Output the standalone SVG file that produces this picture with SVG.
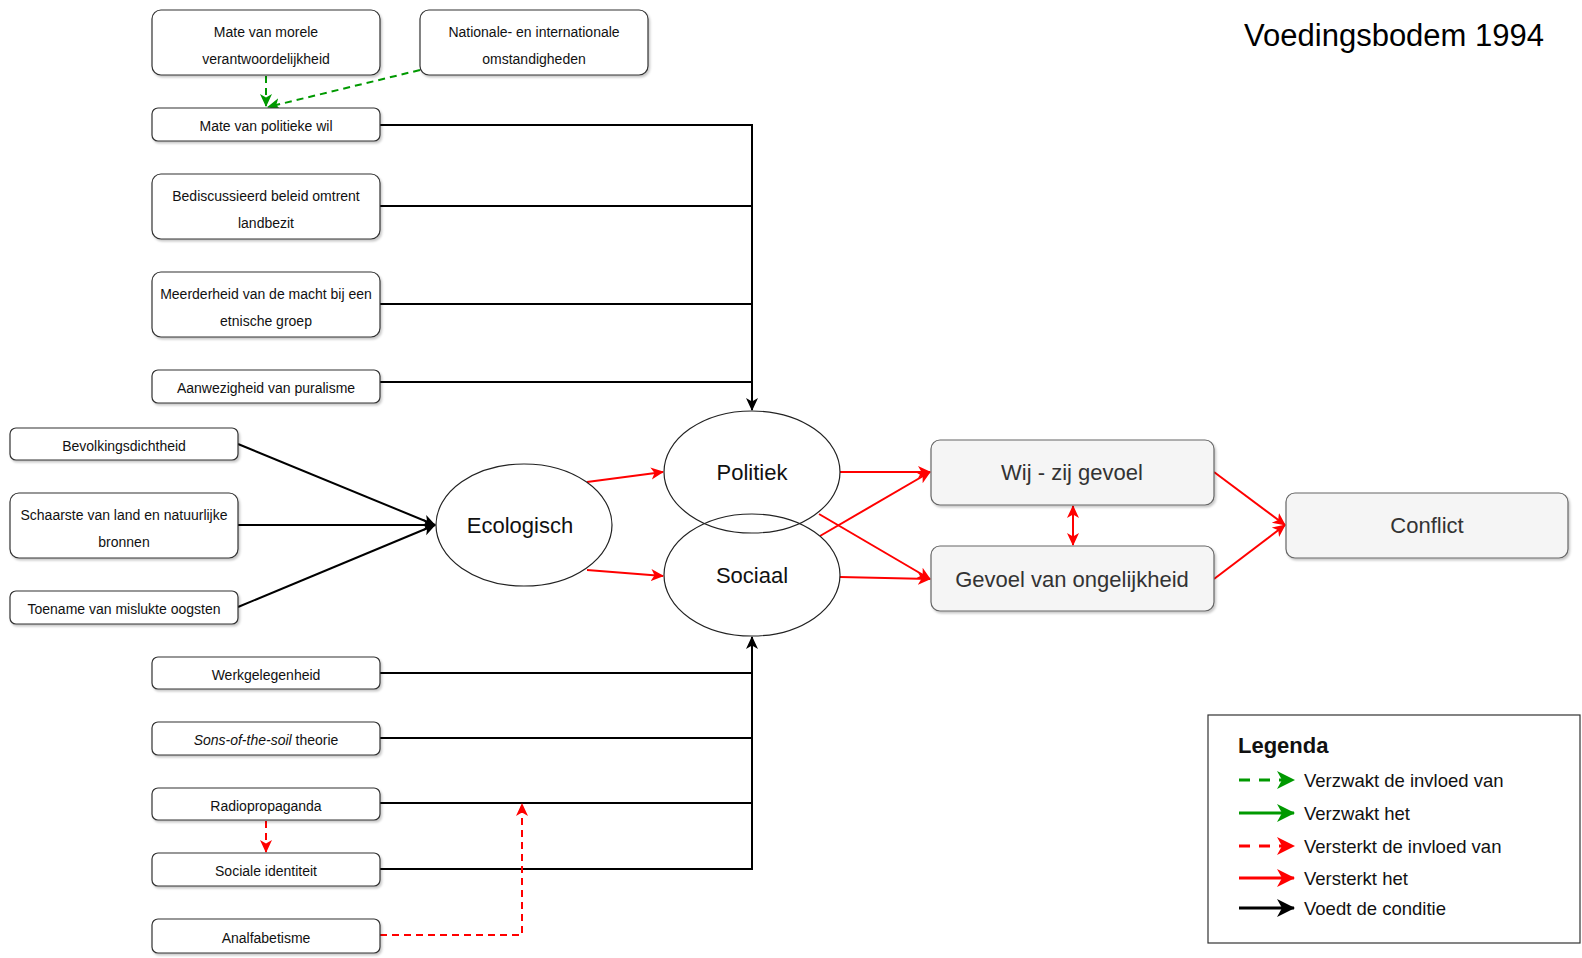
<svg xmlns="http://www.w3.org/2000/svg" width="1582" height="958" viewBox="0 0 1582 958">
<defs>
<filter id="sh" x="-5%" y="-20%" width="110%" height="150%"><feDropShadow dx="1.5" dy="2" stdDeviation="1" flood-color="#000" flood-opacity="0.22"/></filter>
<marker id="ak" markerUnits="userSpaceOnUse" markerWidth="14" markerHeight="14" refX="12" refY="6" orient="auto-start-reverse" viewBox="0 0 14 12"><path d="M0,0 L13,6 L0,12 L3.5,6 Z" fill="#000"/></marker>
<marker id="ar" markerUnits="userSpaceOnUse" markerWidth="14" markerHeight="14" refX="12" refY="6" orient="auto-start-reverse" viewBox="0 0 14 12"><path d="M0,0 L13,6 L0,12 L3.5,6 Z" fill="#ff0000"/></marker>
<marker id="ag" markerUnits="userSpaceOnUse" markerWidth="14" markerHeight="14" refX="12" refY="6" orient="auto-start-reverse" viewBox="0 0 14 12"><path d="M0,0 L13,6 L0,12 L3.5,6 Z" fill="#009900"/></marker>
<marker id="Lk" markerUnits="userSpaceOnUse" markerWidth="20" markerHeight="18" refX="17" refY="9" orient="auto" viewBox="0 0 20 18"><path d="M0,0 L18,9 L0,18 L5,9 Z" fill="#000"/></marker>
<marker id="Lr" markerUnits="userSpaceOnUse" markerWidth="20" markerHeight="18" refX="17" refY="9" orient="auto" viewBox="0 0 20 18"><path d="M0,0 L18,9 L0,18 L5,9 Z" fill="#ff0000"/></marker>
<marker id="Lg" markerUnits="userSpaceOnUse" markerWidth="20" markerHeight="18" refX="17" refY="9" orient="auto" viewBox="0 0 20 18"><path d="M0,0 L18,9 L0,18 L5,9 Z" fill="#009900"/></marker>
</defs>
<style>
.box{fill:#fff;stroke:#333;stroke-width:1.2;filter:url(#sh)}
.gbox{fill:#f5f5f5;stroke:#666;stroke-width:1.2;filter:url(#sh)}
.ell{fill:none;stroke:#222;stroke-width:1.2}
.t{font-family:"Liberation Sans",Arial,sans-serif;font-size:14px;fill:#111;text-anchor:middle}
.tb{font-family:"Liberation Sans",Arial,sans-serif;font-size:22px;fill:#111;text-anchor:middle}
.tg{font-family:"Liberation Sans",Arial,sans-serif;font-size:22px;fill:#333;text-anchor:middle}
.lt{font-family:"Liberation Sans",Arial,sans-serif;font-size:18.5px;fill:#111}
.k{fill:none;stroke:#000;stroke-width:2}
.r{fill:none;stroke:#ff0000;stroke-width:2}
.rd{fill:none;stroke:#ff0000;stroke-width:2;stroke-dasharray:7 5}
.gd{fill:none;stroke:#009900;stroke-width:2;stroke-dasharray:7 5}
</style>
<rect width="1582" height="958" fill="#fff"/>
<text x="1544" y="46" font-family="Liberation Sans,Arial,sans-serif" font-size="31" text-anchor="end" fill="#000">Voedingsbodem 1994</text>

<g id="connectors">
<!-- green dashed -->
<path class="gd" d="M266,76 L266,106" marker-end="url(#ag)"/>
<path class="gd" d="M420,70 L268,107" marker-end="url(#ag)"/>
<!-- political feeders -->
<path class="k" d="M380,125 L752,125 L752,410" marker-end="url(#ak)"/>
<path class="k" d="M380,206 L752,206"/>
<path class="k" d="M380,304 L752,304"/>
<path class="k" d="M380,382 L752,382"/>
<!-- ecological feeders -->
<path class="k" d="M238,444 L435,525" marker-end="url(#ak)"/>
<path class="k" d="M238,525 L435,525" marker-end="url(#ak)"/>
<path class="k" d="M238,607 L435,525" marker-end="url(#ak)"/>
<!-- social feeders -->
<path class="k" d="M380,869 L752,869 L752,637" marker-end="url(#ak)"/>
<path class="k" d="M380,673 L752,673"/>
<path class="k" d="M380,738 L752,738"/>
<path class="k" d="M380,803 L752,803"/>
<!-- red dashed -->
<path class="rd" d="M266,821 L266,852" marker-end="url(#ar)"/>
<path class="rd" d="M380,935 L522,935 L522,804" marker-end="url(#ar)"/>
<!-- red -->
<path class="r" d="M587,482 L663,472" marker-end="url(#ar)"/>
<path class="r" d="M587,570 L663,576" marker-end="url(#ar)"/>
<path class="r" d="M840,472 L930,472" marker-end="url(#ar)"/>
<path class="r" d="M819,514 L930,579" marker-end="url(#ar)"/>
<path class="r" d="M820,536 L930,472" marker-end="url(#ar)"/>
<path class="r" d="M840,577 L930,579" marker-end="url(#ar)"/>
<path class="r" d="M1073,506 L1073,545" marker-start="url(#ar)" marker-end="url(#ar)"/>
<path class="r" d="M1214,472 L1285,525" marker-end="url(#ar)"/>
<path class="r" d="M1214,579 L1285,525" marker-end="url(#ar)"/>
</g>

<g id="n-morele"><rect class="box" x="152" y="10" width="228" height="65" rx="9"/><text class="t" x="266" y="37">Mate van morele</text><text class="t" x="266" y="64">verantwoordelijkheid</text></g>
<g id="n-nationale"><rect class="box" x="420" y="10" width="228" height="65" rx="9"/><text class="t" x="534" y="37">Nationale- en internationale</text><text class="t" x="534" y="64">omstandigheden</text></g>
<g id="n-wil"><rect class="box" x="152" y="108" width="228" height="33" rx="6"/><text class="t" x="266" y="131">Mate van politieke wil</text></g>
<g id="n-beleid"><rect class="box" x="152" y="174" width="228" height="65" rx="9"/><text class="t" x="266" y="201">Bediscussieerd beleid omtrent</text><text class="t" x="266" y="228">landbezit</text></g>
<g id="n-macht"><rect class="box" x="152" y="272" width="228" height="65" rx="9"/><text class="t" x="266" y="299">Meerderheid van de macht bij een</text><text class="t" x="266" y="326">etnische groep</text></g>
<g id="n-puralisme"><rect class="box" x="152" y="370" width="228" height="33" rx="6"/><text class="t" x="266" y="393">Aanwezigheid van puralisme</text></g>
<g id="n-bevolking"><rect class="box" x="10" y="428" width="228" height="32" rx="6"/><text class="t" x="124" y="451">Bevolkingsdichtheid</text></g>
<g id="n-schaarste"><rect class="box" x="10" y="493" width="228" height="65" rx="9"/><text class="t" x="124" y="520">Schaarste van land en natuurlijke</text><text class="t" x="124" y="547">bronnen</text></g>
<g id="n-oogsten"><rect class="box" x="10" y="591" width="228" height="33" rx="6"/><text class="t" x="124" y="614">Toename van mislukte oogsten</text></g>
<g id="n-werk"><rect class="box" x="152" y="657" width="228" height="32" rx="6"/><text class="t" x="266" y="680">Werkgelegenheid</text></g>
<g id="n-sons"><rect class="box" x="152" y="722" width="228" height="33" rx="6"/><text class="t" x="266" y="745"><tspan font-style="italic">Sons-of-the-soil</tspan> theorie</text></g>
<g id="n-radio"><rect class="box" x="152" y="788" width="228" height="32" rx="6"/><text class="t" x="266" y="811">Radiopropaganda</text></g>
<g id="n-identiteit"><rect class="box" x="152" y="853" width="228" height="33" rx="6"/><text class="t" x="266" y="876">Sociale identiteit</text></g>
<g id="n-analfabetisme"><rect class="box" x="152" y="919" width="228" height="34" rx="6"/><text class="t" x="266" y="943">Analfabetisme</text></g>

<g id="n-ecologisch"><ellipse class="ell" cx="524" cy="525" rx="88" ry="61"/><text class="tb" x="520" y="533">Ecologisch</text></g>
<g id="n-politiek"><ellipse class="ell" cx="752" cy="472" rx="88" ry="61"/><text class="tb" x="752" y="480">Politiek</text></g>
<g id="n-sociaal"><ellipse class="ell" cx="752" cy="575" rx="88" ry="61"/><text class="tb" x="752" y="583">Sociaal</text></g>

<g id="n-wijzij"><rect class="gbox" x="931" y="440" width="283" height="65" rx="9"/><text class="tg" x="1072" y="480">Wij - zij gevoel</text></g>
<g id="n-ongelijkheid"><rect class="gbox" x="931" y="546" width="283" height="65" rx="9"/><text class="tg" x="1072" y="587">Gevoel van ongelijkheid</text></g>
<g id="n-conflict"><rect class="gbox" x="1286" y="493" width="282" height="65" rx="9"/><text class="tg" x="1427" y="533">Conflict</text></g>

<g id="legend">
<rect x="1208" y="715" width="372" height="228" fill="#fff" stroke="#333" stroke-width="1.2"/>
<text x="1238" y="753" font-family="Liberation Sans,Arial,sans-serif" font-size="22" font-weight="bold" fill="#111">Legenda</text>
<path d="M1239,780 L1294,780" stroke="#009900" stroke-width="3" stroke-dasharray="11 9" fill="none" marker-end="url(#Lg)"/>
<text class="lt" x="1304" y="787">Verzwakt de invloed van</text>
<path d="M1239,813 L1294,813" stroke="#009900" stroke-width="3" fill="none" marker-end="url(#Lg)"/>
<text class="lt" x="1304" y="820">Verzwakt het</text>
<path d="M1239,846 L1294,846" stroke="#ff0000" stroke-width="3" stroke-dasharray="11 9" fill="none" marker-end="url(#Lr)"/>
<text class="lt" x="1304" y="853">Versterkt de invloed van</text>
<path d="M1239,878 L1294,878" stroke="#ff0000" stroke-width="3" fill="none" marker-end="url(#Lr)"/>
<text class="lt" x="1304" y="885">Versterkt het</text>
<path d="M1239,908 L1294,908" stroke="#000" stroke-width="3" fill="none" marker-end="url(#Lk)"/>
<text class="lt" x="1304" y="915">Voedt de conditie</text>
</g>
</svg>
